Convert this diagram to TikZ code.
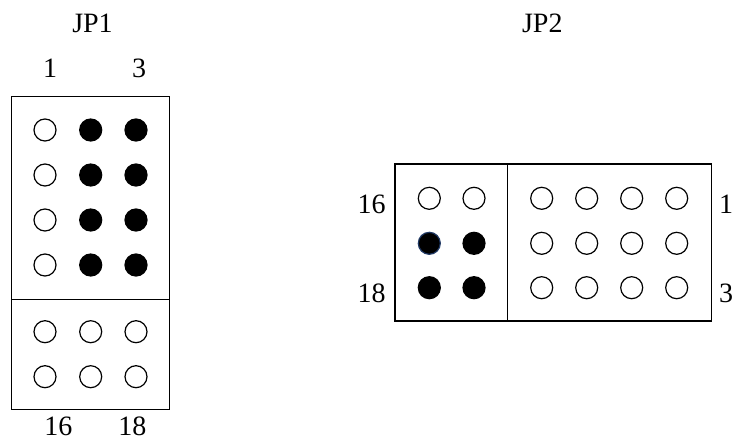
\documentclass[tikz,border=0pt]{standalone}
\usepackage{fontspec}
\setmainfont{Liberation Serif}
\definecolor{pinblue}{RGB}{31,56,100}
\begin{document}
\begin{tikzpicture}[x=1pt,y=-1pt,
  pinopen/.style={circle,draw=black,line width=1.2pt,fill=white,minimum size=22pt,inner sep=0pt},
  pinfull/.style={circle,draw=black,line width=1.2pt,fill=black,minimum size=22pt,inner sep=0pt},
  lbl/.style={font=\fontsize{28}{32}\selectfont,inner sep=0pt,anchor=base},
  frame/.style={draw=black,line width=1.2pt}]
\useasboundingbox (0,0) rectangle (732,442);
% JP1
\node[lbl] (jp1) at (92.5,32) {JP1};
\node[lbl] (j1a) at (50,77) {1};
\node[lbl] (j1b) at (139,77) {3};
\node[lbl] (j1c) at (58.3,435) {16};
\node[lbl] (j1d) at (132.3,435) {18};
\draw[frame] (11.7,96.7) rectangle (169.3,409.3);
\draw[frame] (11.7,299.3) -- (169.3,299.3);
\foreach \r/\y in {1/130,2/175,3/220,4/265}{
  \node[pinopen] (a\r1) at (45,\y) {};
  \node[pinfull] (a\r2) at (90.7,\y) {};
  \node[pinfull] (a\r3) at (136,\y) {};
}
\foreach \r/\y in {5/331.7,6/376.7}{
  \node[pinopen] (a\r1) at (45,\y) {};
  \node[pinopen] (a\r2) at (90.7,\y) {};
  \node[pinopen] (a\r3) at (136,\y) {};
}
% JP2
\node[lbl] (jp2) at (542.3,32) {JP2};
\node[lbl] (k16) at (371.7,213) {16};
\node[lbl] (k18) at (371.7,302) {18};
\node[lbl] (k1) at (726,213) {1};
\node[lbl] (k3) at (726,302) {3};
\draw[frame] (395,164) rectangle (711.7,321);
\draw[frame] (507.7,164) -- (507.7,321);
\node[pinopen] (b11) at (429.3,198.3) {};
\node[pinopen] (b12) at (474,198.3) {};
\node[pinfull,draw=pinblue] (b21) at (429.3,243.3) {};
\node[pinfull] (b22) at (474,243.3) {};
\node[pinfull] (b31) at (429.3,287.7) {};
\node[pinfull] (b32) at (474,287.7) {};
\foreach \r/\y in {1/198.3,2/243.3,3/287.7}{
  \foreach \c/\x in {3/541.7,4/586.7,5/631.7,6/676.7}{
    \node[pinopen] (b\r\c) at (\x,\y) {};
  }
}
\end{tikzpicture}
\end{document}
